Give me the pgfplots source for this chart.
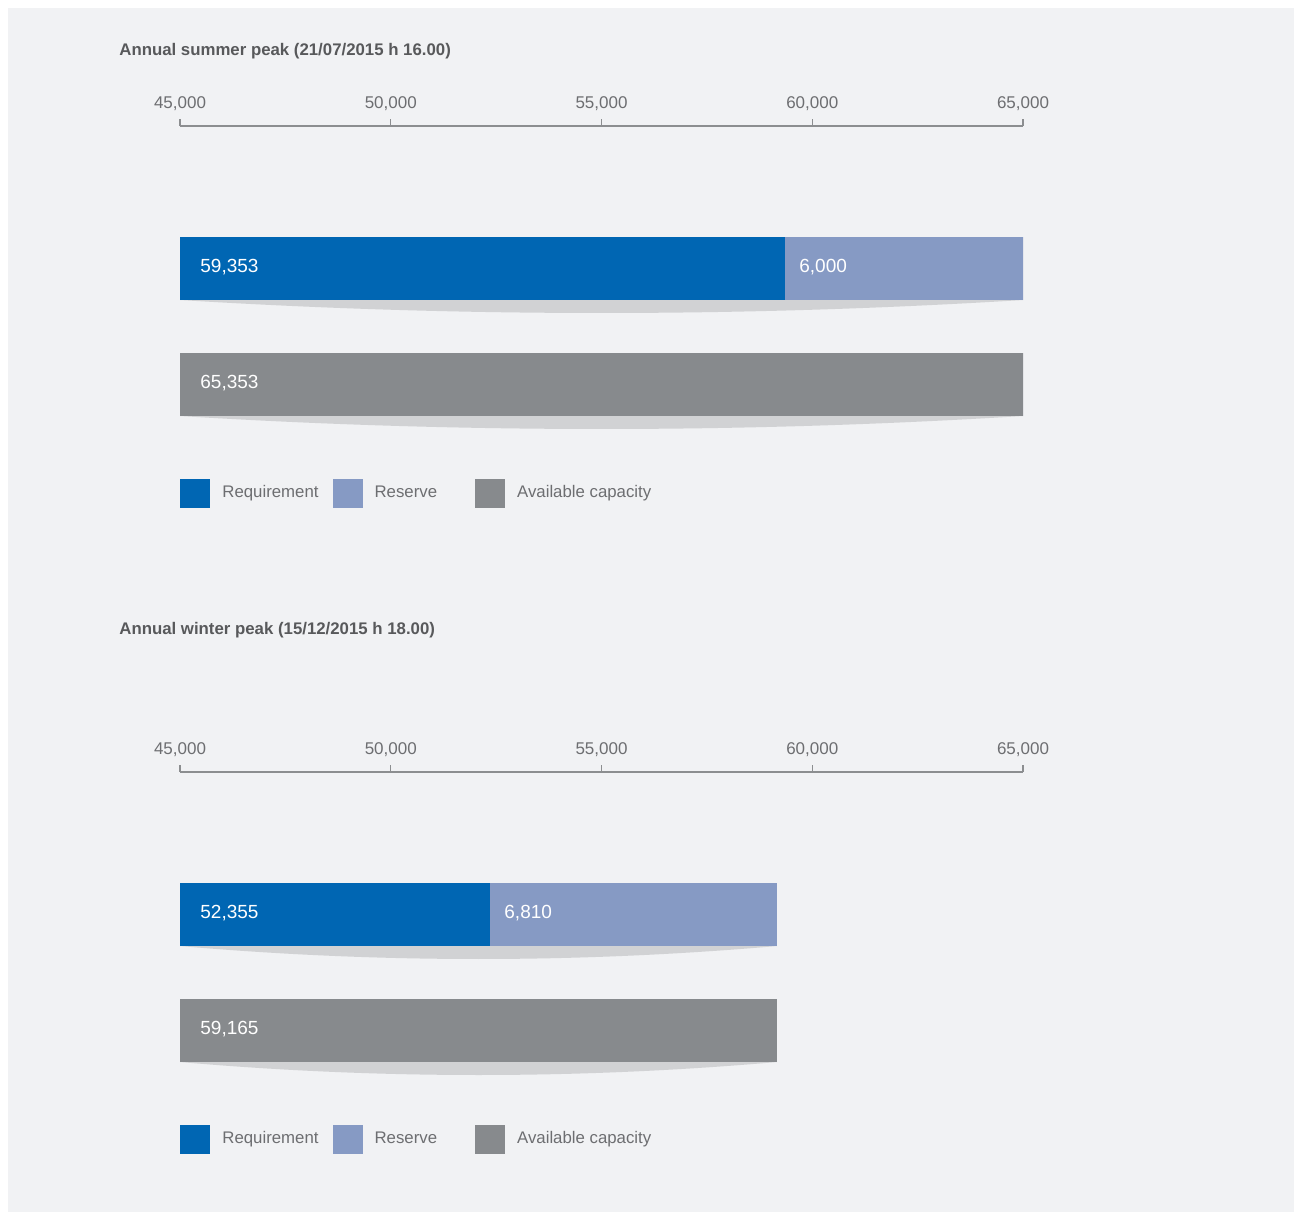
\documentclass[border=0pt]{standalone}
\usepackage{pgfplots}
\pgfplotsset{compat=1.18}
\usepackage{fontspec}
\setmainfont{Liberation Sans}
\definecolor{bgc}{HTML}{F1F2F4}
\definecolor{reqc}{HTML}{0066B3}
\definecolor{resc}{HTML}{869AC4}
\definecolor{avac}{HTML}{878A8D}
\definecolor{shc}{HTML}{D1D2D4}
\definecolor{axc}{HTML}{8C8E90}
\definecolor{titc}{HTML}{58595B}
\definecolor{txtc}{HTML}{6D6E71}
\tikzset{barlab/.style={anchor=west, inner sep=0pt, text=white, font=\fontsize{9.5}{11}\selectfont}}
\pgfplotsset{
  panel/.style={
    scale only axis, width=421.5pt, height=200pt,
    xmin=45000, xmax=65000, ymin=-400, ymax=0,
    axis x line=top, axis y line=none,
    axis line style={-, draw=axc, line width=0.6pt},
    xtick={45000,50000,55000,60000,65000},
    major tick length=3.5pt, tick align=outside,
    major tick style={draw=axc, line width=0.6pt},
    scaled x ticks=false,
    xticklabel style={font=\fontsize{8.5}{10}\selectfont, text=txtc, yshift=0.5pt},
    /pgf/number format/.cd, 1000 sep={,}, assume math mode=true, /pgfplots/.cd,
    xbar, bar width=63, bar shift=0pt,
    legend image code/.code={\fill[##1, draw=none] (0pt,-7.25pt) rectangle (15pt,7.25pt); \path (21pt,0pt);},
    legend style={draw=none, fill=none, inner sep=0pt, column sep=0pt,
      /tikz/every even column/.append style={column sep=7pt},
      nodes={inner sep=0pt, font=\fontsize{8.4}{10}\selectfont, text=txtc},
      at={(axis cs:45000,-367)}, anchor=west},
    legend columns=3,
    clip=true,
  },
}
\begin{document}
\begin{tikzpicture}
\fill[white] (0,0) rectangle (649.5pt,-606pt);
\fill[bgc] (4pt,-4pt) rectangle (647pt,-606pt);
% summer
\begin{axis}[panel, name=top, at={(90pt,-63pt)}, anchor=north west]
\fill[shc] (axis cs:45000,-174) .. controls (axis cs:51667,-191.3) and (axis cs:58333,-191.3) .. (axis cs:65000,-174) -- cycle;
\fill[shc] (axis cs:45000,-290) .. controls (axis cs:51667,-307.3) and (axis cs:58333,-307.3) .. (axis cs:65000,-290) -- cycle;
\addplot[draw=none, fill=resc, forget plot] coordinates {(65353,-142.5)};
\addplot[draw=none, fill=reqc, forget plot] coordinates {(59353,-142.5)};
\addplot[draw=none, fill=avac, forget plot] coordinates {(65353,-258.5)};
\node[barlab, xshift=10pt] at (axis cs:45000,-141.5) {59,353};
\node[barlab, xshift=7pt] at (axis cs:59353,-141.5) {6,000};
\node[barlab, xshift=10pt] at (axis cs:45000,-257.5) {65,353};
\addlegendimage{fill=reqc, draw=none}
\addlegendimage{fill=resc, draw=none}
\addlegendimage{fill=avac, draw=none}
\legend{Requirement, \mbox{Reserve\kern12pt}, Available capacity}
\end{axis}
\node[anchor=west, inner sep=0pt, text=titc, font=\bfseries\fontsize{8.4}{10}\selectfont] at (59.5pt,-25.5pt) {Annual summer peak (21/07/2015 h 16.00)};
% winter
\begin{axis}[panel, name=bot, at={(90pt,-386pt)}, anchor=north west]
\fill[shc] (axis cs:45000,-174) .. controls (axis cs:49722,-191.3) and (axis cs:54443,-191.3) .. (axis cs:59165,-174) -- cycle;
\fill[shc] (axis cs:45000,-290) .. controls (axis cs:49722,-307.3) and (axis cs:54443,-307.3) .. (axis cs:59165,-290) -- cycle;
\addplot[draw=none, fill=resc, forget plot] coordinates {(59165,-142.5)};
\addplot[draw=none, fill=reqc, forget plot] coordinates {(52355,-142.5)};
\addplot[draw=none, fill=avac, forget plot] coordinates {(59165,-258.5)};
\node[barlab, xshift=10pt] at (axis cs:45000,-141.5) {52,355};
\node[barlab, xshift=7pt] at (axis cs:52355,-141.5) {6,810};
\node[barlab, xshift=10pt] at (axis cs:45000,-257.5) {59,165};
\addlegendimage{fill=reqc, draw=none}
\addlegendimage{fill=resc, draw=none}
\addlegendimage{fill=avac, draw=none}
\legend{Requirement, \mbox{Reserve\kern12pt}, Available capacity}
\end{axis}
\node[anchor=west, inner sep=0pt, text=titc, font=\bfseries\fontsize{8.4}{10}\selectfont] at (59.5pt,-315pt) {Annual winter peak (15/12/2015 h 18.00)};
\end{tikzpicture}
\end{document}
